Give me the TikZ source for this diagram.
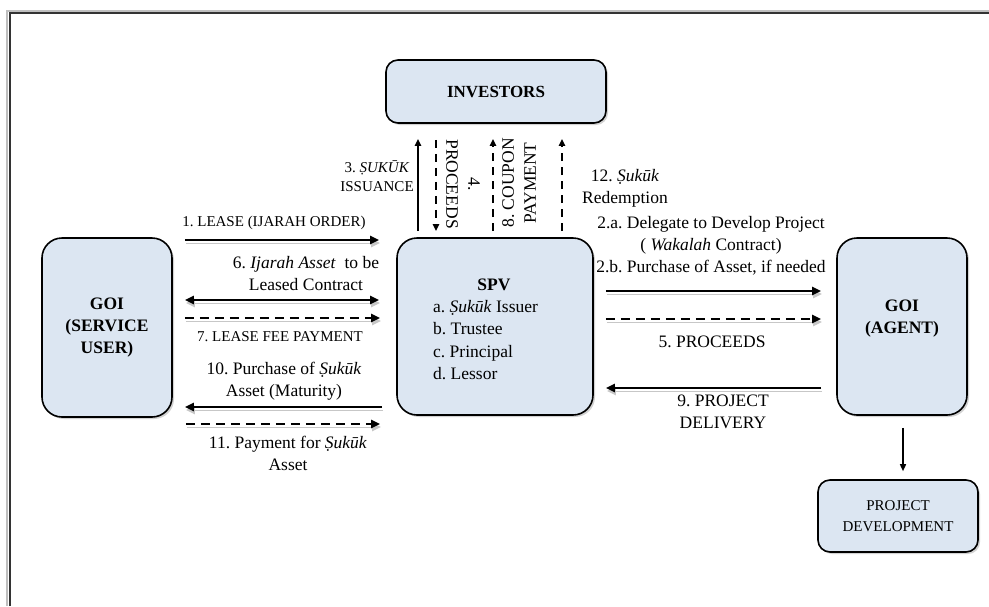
\documentclass[tikz,border=0pt]{standalone}
\usepackage{fontspec}
\setmainfont{Liberation Serif}
\usetikzlibrary{arrows.meta,shadows}
\definecolor{boxfill}{HTML}{DCE6F2}
\frenchspacing
\begin{document}
\begin{tikzpicture}[x=1pt,y=-1pt,
  box/.style={draw=black,line width=1.6pt,fill=boxfill,rounded corners=20pt,
    drop shadow={opacity=0.35,shadow xshift=2pt,shadow yshift=-2pt},
    inner sep=0pt,align=center,font=\fontsize{17.5}{22}\selectfont},
  lbl/.style={font=\fontsize{17.5}{22}\selectfont,align=center,inner sep=0pt},
  sml/.style={font=\fontsize{15}{18.5}\selectfont,align=center,inner sep=0pt},
  shd/.style={preaction={draw=black!22,transform canvas={shift={(1pt,-3pt)}}}},
  arr/.style={line width=2.3pt,-{Triangle[length=9pt,width=8pt]}},
  darr/.style={arr,dash pattern=on 9pt off 6pt},
  barr/.style={line width=2.3pt,{Triangle[length=9pt,width=8pt]}-{Triangle[length=9pt,width=8pt]}},
  varr/.style={line width=1.8pt,-{Triangle[length=7pt,width=6pt]}},
  dvarr/.style={varr,dash pattern=on 8pt off 6pt},
]
\useasboundingbox (0,0) rectangle (989,606);
\fill[white] (0,0) rectangle (989,606);
% frame
\draw[black!25,line width=2pt] (7,606) -- (7,11) -- (989,11);
\draw[black!80,line width=1.3pt] (10,606) -- (10,13) -- (989,13);

% boxes
\node[box,minimum width=220pt,minimum height=63pt,rounded corners=12pt,font=\fontsize{17}{20}\selectfont\bfseries] (inv) at (496,91.5) {INVESTORS};
\node[box,minimum width=196pt,minimum height=177pt] (spv) at (495,326.5) {};
\node[box,minimum width=130pt,minimum height=179pt,font=\fontsize{17.5}{22}\selectfont\bfseries] (su) at (107,327.5) {GOI\\(SERVICE\\USER)};
\node[box,minimum width=130pt,minimum height=177pt] (ag) at (902,326.5) {};
\node[box,minimum width=160pt,minimum height=72pt,rounded corners=12pt,font=\fontsize{15}{21}\selectfont] (pd) at (898,516) {PROJECT\\DEVELOPMENT};

% box texts
\node[lbl,font=\fontsize{17.5}{22}\selectfont\bfseries] (spvt) at (494,285) {SPV};
\node[lbl,anchor=west,align=left,font=\fontsize{17.5}{22.3}\selectfont] (spvl) at (433,340) {a. \textit{Ṣukūk} Issuer\\b. Trustee\\c. Principal\\d. Lessor};
\node[lbl,font=\fontsize{17.5}{22}\selectfont\bfseries] (agt) at (902,319) {GOI\\(AGENT)};

% left arrows
\draw[arr,shd] ([xshift=12pt]su.east |- 0,240) -- ([xshift=-17pt]spv.west |- 0,240);
\draw[barr,shd] ([xshift=12pt]su.east |- 0,300) -- ([xshift=-17pt]spv.west |- 0,300);
\draw[darr,shd] ([xshift=12pt]su.east |- 0,318) -- ([xshift=-16pt]spv.west |- 0,318);
\draw[arr,shd] ([xshift=-14pt]spv.west |- 0,407) -- ([xshift=12pt]su.east |- 0,407);
\draw[darr,shd] ([xshift=13pt]su.east |- 0,424) -- ([xshift=-16pt]spv.west |- 0,424);

% right arrows
\draw[arr,shd] ([xshift=12pt]spv.east |- 0,291) -- ([xshift=-15pt]ag.west |- 0,291);
\draw[darr,shd] ([xshift=12pt]spv.east |- 0,319) -- ([xshift=-15pt]ag.west |- 0,319);
\draw[arr,shd] ([xshift=-15pt]ag.west |- 0,388) -- ([xshift=12pt]spv.east |- 0,388);

% vertical arrows
\draw[varr] ([yshift=6pt]spv.north -| 418,0) -- ([yshift=-15pt]inv.south -| 418,0);
\draw[dvarr] ([yshift=-16pt]inv.south -| 436,0) -- ([yshift=6pt]spv.north -| 436,0);
\draw[dvarr] ([yshift=6pt]spv.north -| 493,0) -- ([yshift=-15pt]inv.south -| 493,0);
\draw[dvarr] ([yshift=6pt]spv.north -| 562,0) -- ([yshift=-15pt]inv.south -| 562,0);
\draw[line width=1.5pt,-{Triangle[length=7pt,width=6pt]}] ([yshift=-12pt]ag.south -| 903,0) -- ([yshift=8pt]pd.north -| 903,0);

% labels
\node[sml] (l1) at (274,223) {1. LEASE (IJARAH ORDER)};
\node[lbl] (l6) at (306,274) {6. \textit{Ijarah Asset}\ \ to be\\Leased Contract};
\node[sml] (l7) at (280,337) {7. LEASE FEE PAYMENT};
\node[lbl] (l10) at (284,381) {10. Purchase of \textit{Ṣukūk}\\Asset (Maturity)};
\node[lbl] (l11) at (288,453) {11. Payment for \textit{Ṣukūk}\\Asset};
\node[sml] (l3) at (377,176) {3. \textit{ṢUKŪK}\\ISSUANCE};
\node[lbl,rotate=-90] (l4) at (463,184) {4.\\PROCEEDS};
\node[lbl,rotate=90] (l8) at (519,183) {8. COUPON\\PAYMENT};
\node[lbl] (l12) at (625,188) {12. \textit{Ṣukūk}\\Redemption};
\node[lbl] (l2) at (711,246) {2.a. Delegate to Develop Project\\( \textit{Wakalah} Contract)\\2.b. Purchase of Asset, if needed};
\node[lbl] (l5) at (712,342) {5. PROCEEDS};
\node[lbl] (l9) at (723,412) {9. PROJECT\\DELIVERY};
\end{tikzpicture}
\end{document}
